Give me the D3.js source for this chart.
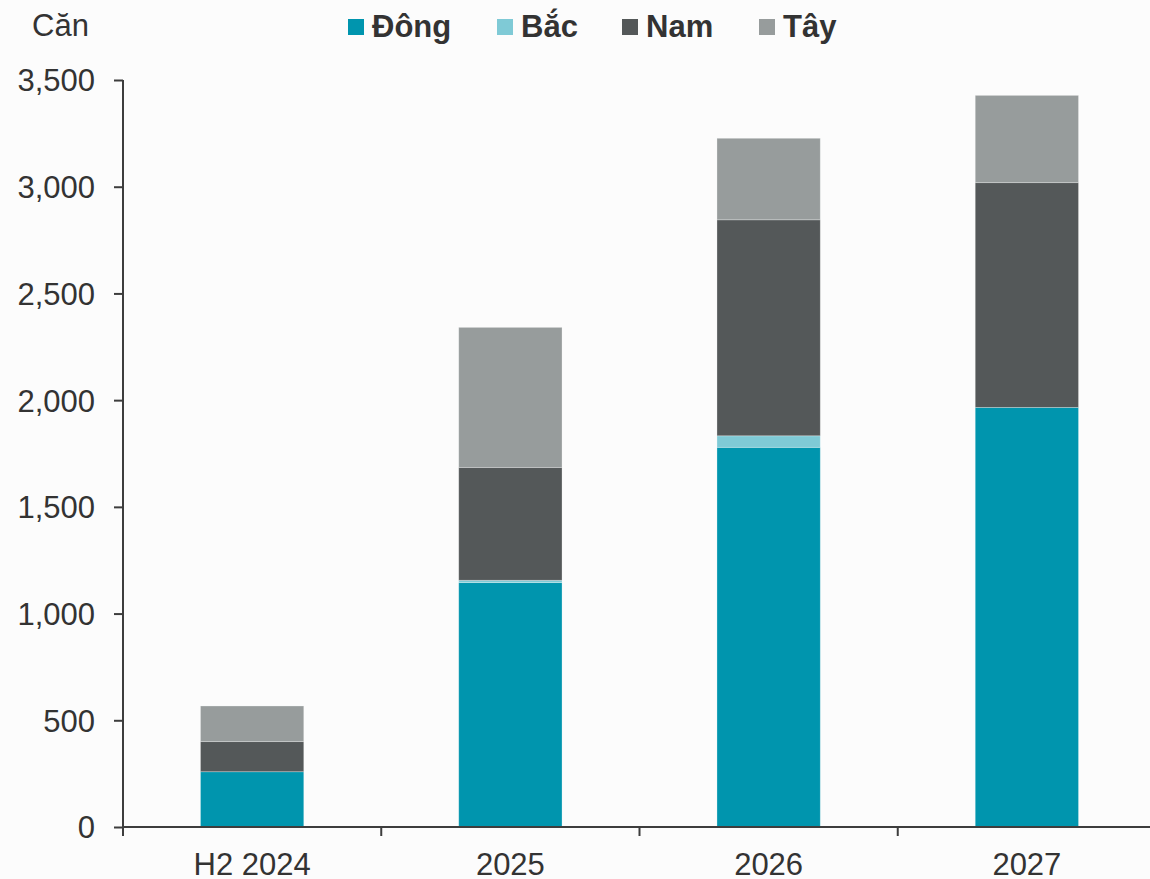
<!DOCTYPE html>
<html>
<head>
<meta charset="utf-8">
<script src="https://cdn.jsdelivr.net/npm/d3@7"></script>
<style>
  html, body { margin: 0; padding: 0; background: #fcfcfc; }
  svg { display: block; }
  text { font-family: "Liberation Sans", Arial, sans-serif; fill: #333; }
</style>
</head>
<body>
<svg id="chart" width="1150" height="879"></svg>
<script>
// Categories and stacked series (units: căn)
const categories = ["H2 2024", "2025", "2026", "2027"];
const seriesNames = ["Đông", "Bắc", "Nam", "Tây"];
const dong = [259, 1145, 1779, 1966];
const bac  = [0, 11, 54, 0];
const nam  = [141, 529, 1012, 1053];
const tay  = [167, 656, 382, 409];
const yTicks = [0, 500, 1000, 1500, 2000, 2500, 3000, 3500];
const colors = ["#0095ae", "#7fcad6", "#545859", "#979c9c"];

const rows = categories.map((c, i) => ({
  cat: c, "Đông": dong[i], "Bắc": bac[i], "Nam": nam[i], "Tây": tay[i]
}));

const svg = d3.select("#chart");
const plotLeft = 123, plotRight = 1156, plotTop = 80, plotBottom = 827;

const x = d3.scaleBand().domain(categories).range([plotLeft, plotRight]).paddingInner(0).paddingOuter(0);
const y = d3.scaleLinear().domain([0, 3500]).range([plotBottom, plotTop]);
const color = d3.scaleOrdinal().domain(seriesNames).range(colors);

const stack = d3.stack().keys(seriesNames);
const layers = stack(rows);

const barW = x.bandwidth() * 0.4;

svg.append("g").selectAll("g")
  .data(layers)
  .join("g")
  .attr("fill", d => color(d.key))
  .selectAll("rect")
  .data(d => d)
  .join("rect")
  .attr("x", d => x(d.data.cat) + (x.bandwidth() - barW) / 2)
  .attr("width", barW)
  .attr("y", d => y(d[1]))
  .attr("height", d => Math.max(0, y(d[0]) - y(d[1])))
  .attr("stroke", "#ffffff")
  .attr("stroke-opacity", d => (d[1] - d[0]) > 0 ? 0.35 : 0)
  .attr("stroke-width", 0.8);

// Y axis
const yAxis = svg.append("g").attr("transform", `translate(${plotLeft},0)`)
  .call(d3.axisLeft(y).tickValues(yTicks).tickFormat(d3.format(",")).tickSize(9).tickPadding(19));
yAxis.select(".domain").remove();
yAxis.append("line").attr("x1", 0).attr("x2", 0).attr("y1", plotTop).attr("y2", plotBottom + 9)
  .attr("stroke", "#3d3d3d").attr("stroke-width", 2);
yAxis.selectAll(".tick line").attr("stroke", "#3d3d3d").attr("stroke-width", 2);
yAxis.selectAll(".tick text").attr("font-size", 31).attr("fill", "#333")
  .attr("font-family", "Liberation Sans, Arial, sans-serif").attr("dy", "0.35em");

// X axis
const xAxis = svg.append("g").attr("transform", `translate(0,${plotBottom})`);
xAxis.append("line").attr("x1", plotLeft).attr("x2", 1150).attr("y1", 0).attr("y2", 0)
  .attr("stroke", "#3d3d3d").attr("stroke-width", 2);
xAxis.selectAll("line.sep")
  .data(categories.slice(1))
  .join("line")
  .attr("class", "sep")
  .attr("x1", d => x(d)).attr("x2", d => x(d))
  .attr("y1", 0).attr("y2", 9)
  .attr("stroke", "#3d3d3d").attr("stroke-width", 2);
xAxis.selectAll("text")
  .data(categories)
  .join("text")
  .attr("x", d => x(d) + x.bandwidth() / 2)
  .attr("y", 48)
  .attr("text-anchor", "middle")
  .attr("font-size", 31)
  .text(d => d);

// Unit label
svg.append("text").attr("x", 32).attr("y", 36).attr("font-size", 31).text("Căn");

// Legend
const legendX = [348, 497, 622, 759];
const legend = svg.append("g").selectAll("g")
  .data(seriesNames)
  .join("g")
  .attr("transform", (d, i) => `translate(${legendX[i]},0)`);
legend.append("rect").attr("x", 0).attr("y", 19).attr("width", 16).attr("height", 16)
  .attr("fill", d => color(d));
legend.append("text").attr("x", 24).attr("y", 37).attr("font-size", 31)
  .attr("font-weight", "bold").attr("fill", "#262626").text(d => d);
</script>
</body>
</html>
